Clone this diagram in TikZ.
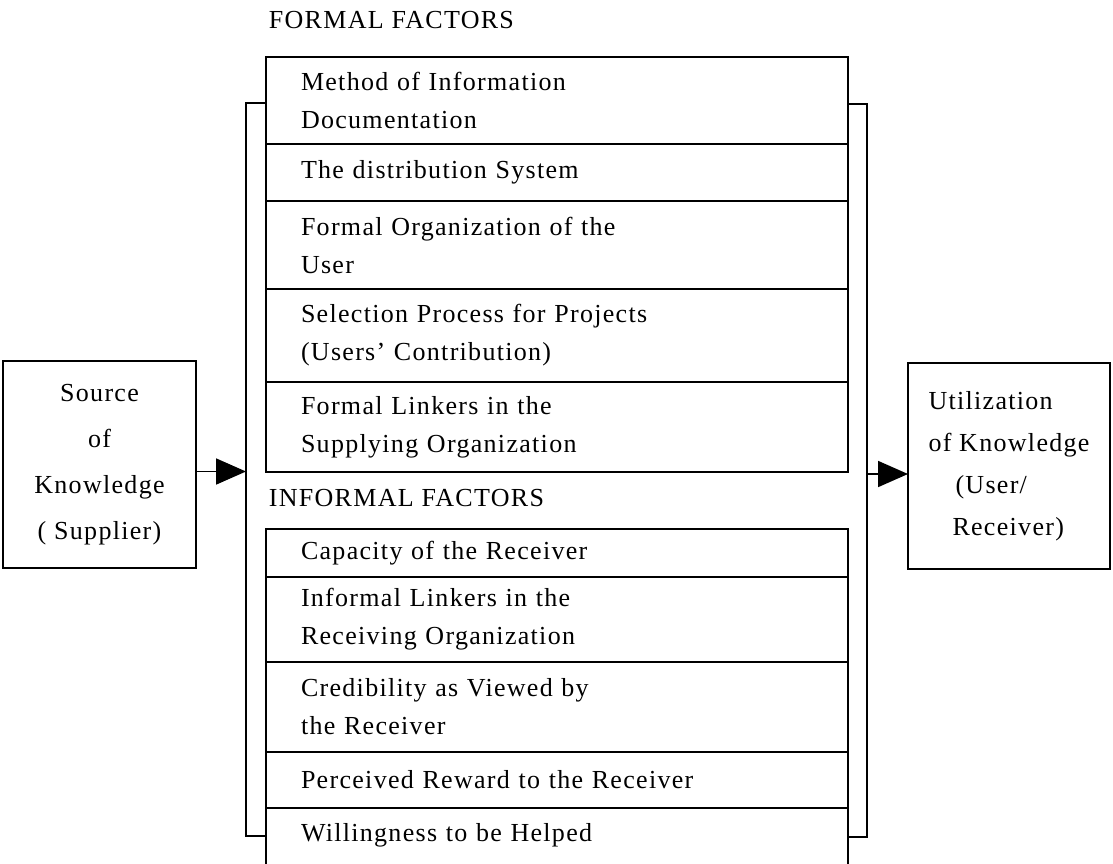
\documentclass[tikz,border=0pt]{standalone}
\usepackage{fontspec}
\setmainfont{Liberation Serif}[LetterSpace=5]
\usetikzlibrary{arrows.meta, positioning}

\begin{document}
\begin{tikzpicture}[x=0.5pt, y=-0.5pt, line width=0.9pt,
    factor/.style={rectangle, draw, outer sep=0pt, inner xsep=17.5pt, inner ysep=0pt,
                   text width=256pt, align=left, font=\fontsize{13}{19}\selectfont},
    endbox/.style={rectangle, draw, outer sep=0pt, inner sep=0pt, anchor=north west},
    heading/.style={anchor=west, inner sep=0pt, font=\fontsize{13}{19}\selectfont},
    flow/.style={-{Triangle[length=15pt, width=13pt]}}
]
\useasboundingbox (0,0) rectangle (1113,863);

% formal factors
\node[heading] (formal) at (268,20) {FORMAL FACTORS};
\node[factor, minimum height=43.5pt, anchor=north west] (f1) at (266,57) {Method of Information\\Documentation};
\node[factor, minimum height=28.5pt, below=0pt of f1] (f2) {The distribution System};
\node[factor, minimum height=44pt, below=0pt of f2] (f3) {Formal Organization of the\\User};
\node[factor, minimum height=46.5pt, below=0pt of f3] (f4) {Selection Process for Projects\\(Users' Contribution)};
\node[factor, minimum height=45pt, below=0pt of f4] (f5) {Formal Linkers in the\\Supplying Organization};

% informal factors
\node[heading] (informal) at (268,498) {INFORMAL FACTORS};
\node[factor, minimum height=24pt, anchor=north west] (i1) at (266,529) {Capacity of the Receiver};
\node[factor, minimum height=42.5pt, below=0pt of i1] (i2) {Informal Linkers in the\\Receiving Organization};
\node[factor, minimum height=45pt, below=0pt of i2] (i3) {Credibility as Viewed by\\the Receiver};
\node[factor, minimum height=28pt, below=0pt of i3] (i4) {Perceived Reward to the Receiver};
\node[factor, draw=none, minimum height=27pt, below=0pt of i4] (i5) {Willingness to be Helped};
\draw (i5.north west) -- ++(0,70);
\draw (i5.north east) -- ++(0,70);

% supplier and user
\node[endbox, minimum width=96.5pt, minimum height=103.5pt, align=center,
      font=\fontsize{13}{23}\selectfont] (src) at (3,361) {Source\\of\\Knowledge\\( Supplier)};
\node[endbox, minimum width=101pt, minimum height=103pt, align=left,
      font=\fontsize{13}{21}\selectfont] (dst) at (908,363)
      {Utilization\\of Knowledge\\\hspace*{13.5pt}(User/\\\hspace*{12pt}Receiver)};

% brackets round both groups
\coordinate (lt) at (246,103);
\coordinate (lb) at (246,836);
\coordinate (rt) at (867,104);
\coordinate (rb) at (867,837);
\draw (lt -| f1.west) -- (lt) -- (lb) -- (lb -| i5.west);
\draw (rt -| f1.east) -- (rt) -- (rb) -- (rb -| i5.east);

% flow arrows
\coordinate (srcout) at ([yshift=-3.5pt]src.east);
\coordinate (dstin) at ([yshift=-4pt]dst.west);
\draw[flow] (srcout) -- (srcout -| lt);
\draw[flow] (dstin -| rt) -- (dstin);
\end{tikzpicture}
\end{document}
